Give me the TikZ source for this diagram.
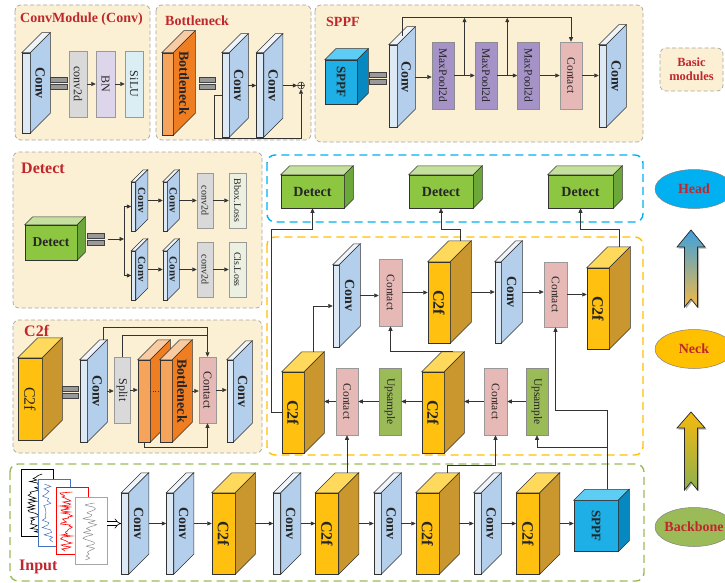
\documentclass[tikz,border=0pt]{standalone}
\usepackage{fontspec}
\setmainfont{Liberation Serif}
\usetikzlibrary{arrows.meta,shadows,calc,shapes.geometric}

\definecolor{panelfill}{HTML}{FCF0D4}
\definecolor{titlered}{HTML}{C0272D}
\definecolor{blufront}{HTML}{DDEAF6}
\definecolor{blutop}{HTML}{EEF4FA}
\definecolor{bluside}{HTML}{B3CFEB}
\definecolor{yelfront}{HTML}{FFC010}
\definecolor{yeltop}{HTML}{FFD95C}
\definecolor{yelside}{HTML}{C9972E}
\definecolor{cyafront}{HTML}{1DAFE5}
\definecolor{cyatop}{HTML}{5ECDF6}
\definecolor{cyaside}{HTML}{0589C0}
\definecolor{grnfront}{HTML}{8DC641}
\definecolor{grntop}{HTML}{C4E09C}
\definecolor{grnside}{HTML}{6CA73A}
\definecolor{orgfront}{HTML}{F6A45C}
\definecolor{orgtop}{HTML}{F9CBA2}
\definecolor{orgside}{HTML}{EF7D22}
\definecolor{catpink}{HTML}{E6B8B6}
\definecolor{poolpurple}{HTML}{A592C7}
\definecolor{upgreen}{HTML}{9BBB59}
\definecolor{convgray}{HTML}{D9D9D9}
\definecolor{bnlilac}{HTML}{DDD5E9}
\definecolor{silucyan}{HTML}{DBEEF4}
\definecolor{losspale}{HTML}{EBF0E0}
\definecolor{headblue}{HTML}{00B0F0}
\definecolor{neckyellow}{HTML}{FFC000}
\definecolor{bbgreen}{HTML}{9BBB59}
\definecolor{sigblue}{HTML}{4472C4}
\definecolor{arrblue}{HTML}{3FA0DD}
\definecolor{arrorange}{HTML}{F2B946}
\definecolor{arryellow}{HTML}{F5B90F}
\definecolor{arrgreen}{HTML}{8DB04E}

\tikzstyle{panel} = [draw=black!35, dash pattern=on 4pt off 2.5pt, line width=.7pt, fill=panelfill, rounded corners=6pt]
\tikzstyle{region} = [dash pattern=on 8pt off 5pt, line width=1.4pt, rounded corners=8pt]
\tikzstyle{title} = [font=\fontsize{14}{14}\selectfont\bfseries, text=titlered, inner sep=0]
\tikzstyle{face} = [draw=black!80, line width=.5pt, inner sep=0, font=\fontsize{14}{14}\selectfont\bfseries, text=black!85]
\tikzstyle{rim} = [draw=black!80, line width=.5pt]
\tikzstyle{sidelab} = [inner sep=0, font=\fontsize{14}{14}\selectfont\bfseries, text=black!85]
\tikzstyle{flat} = [draw=black!40, line width=.5pt, inner sep=0, font=\fontsize{11.5}{12}\selectfont, text=black!85]
\tikzstyle{cat} = [flat, fill=catpink, minimum width=23pt, minimum height=67pt]
\tikzstyle{pool} = [flat, fill=poolpurple, draw=black!45, minimum width=22pt, minimum height=67pt]
\tikzstyle{upsmp} = [flat, fill=upgreen, draw=black!45, minimum width=22pt, minimum height=67pt]
\tikzstyle{greybox} = [flat, fill=convgray]
\tikzstyle{arr} = [draw=black!80, line width=.6pt, -{Triangle[length=4.5pt,width=4pt]}]
\tikzstyle{wire} = [draw=black!80, line width=.6pt]
\tikzstyle{bar} = [fill=black!40, draw=black!75, line width=.4pt]
\tikzstyle{ell} = [ellipse, draw=black!50, line width=.5pt, minimum width=78pt, minimum height=39pt, inner sep=0]
\tikzstyle{elltext} = [font=\fontsize{14}{14}\selectfont\bfseries, text=titlered, inner sep=0]
\tikzstyle{sig} = [fill=white, minimum width=32pt, minimum height=67pt, line width=.6pt, inner sep=0]
\tikzstyle{bigarrow} = [draw=black!85, line width=.7pt, drop shadow={shadow xshift=1.5pt, shadow yshift=-1.5pt, fill=black!60}]
\tikzstyle{addop} = [circle, draw=black!80, line width=.5pt, minimum size=7pt, inner sep=0, path picture={\draw[black!80, line width=.5pt] (path picture bounding box.north) -- (path picture bounding box.south) (path picture bounding box.west) -- (path picture bounding box.east);}]

\newcommand{\vt}[1]{\rotatebox{-90}{#1}}
\newcommand{\cuboid}[8]{%
  \node[face, fill=#7front, minimum width=#4pt, minimum height=#5pt] (#1) at (#2,#3) {#8};
  \filldraw[rim, fill=#7top] (#1.north west) -- ++(#6,-#6) -- ([shift={(#6,-#6)}]#1.north east) -- (#1.north east) -- cycle;
  \filldraw[rim, fill=#7side] (#1.north east) -- ++(#6,-#6) -- ([shift={(#6,-#6)}]#1.south east) -- (#1.south east) -- cycle;
  \coordinate (#1-o) at ([shift={(#6,-#6/2)}]#1.east);
  \coordinate (#1-b) at ([shift={(#6,-#6)}]#1.north);
  \coordinate (#1-t) at ([shift={(#6/2,-#6/2)}]#1.north);
  \coordinate (#1-s) at ([shift={(#6/2,-#6/2)}]#1.east);
}
\newcommand{\plate}[8]{%
  \cuboid{#1}{#2}{#3}{#4}{#5}{#6}{#7}{}
  \node[sidelab] (#1-l) at (#1-s) {#8};
}
\newcommand{\eqbar}[3]{%
  \node[inner sep=0, minimum width=16pt, minimum height=12pt] (#1) at (#2,#3) {};
  \filldraw[bar] (#1.north west) rectangle ([yshift=1pt]#1.east);
  \filldraw[bar] ([yshift=-1pt]#1.west) rectangle (#1.south east);
}

\begin{document}
\begin{tikzpicture}[x=1pt,y=-1pt]
\useasboundingbox (0,0) rectangle (725,583);

\draw[panel] (15,5) rectangle (150,140);
\draw[panel] (156,5) rectangle (311,140);
\draw[panel] (315,5) rectangle (643,142);
\draw[panel] (660,48) rectangle (723,91);
\draw[panel] (13,152) rectangle (262,308);
\draw[panel] (13,320) rectangle (262,453);
\draw[region, draw=headblue] (267,155) rectangle (643,222);
\draw[region, draw=neckyellow] (267,237) rectangle (643,455);
\draw[region, draw=bbgreen] (10,464) rectangle (644,581);

\node[title, anchor=west] (tconv) at (20,19) {ConvModule (Conv)};
\node[title, anchor=west] (tbneck) at (165,21) {Bottleneck};
\node[title, anchor=west] (tsppf) at (326,22) {SPPF};
\node[title, align=center, font=\fontsize{12.5}{14}\selectfont\bfseries] (tbasic) at (691.5,69.5) {Basic\\modules};
\node[title, anchor=west, font=\fontsize{16}{16}\selectfont\bfseries] (tdetect) at (21,168) {Detect};
\node[title, anchor=west, font=\fontsize{16}{16}\selectfont\bfseries] (tc2f) at (24,331) {C2f};
\node[title, anchor=west, font=\fontsize{16}{16}\selectfont\bfseries] (tinput) at (19,567) {Input};

\plate{cmconv}{26}{93}{8}{80}{20}{blu}{\vt{Conv}}
\eqbar{cmbar}{58.5}{83}
\node[greybox, minimum width=18pt, minimum height=66pt, font=\fontsize{12}{12}\selectfont] (cmc2d) at (78,84) {\vt{conv2d}};
\node[flat, fill=bnlilac, minimum width=19pt, minimum height=66pt, font=\fontsize{12}{12}\selectfont] (cmbn) at (105.5,84) {\vt{BN}};
\node[flat, fill=silucyan, minimum width=18pt, minimum height=66pt, font=\fontsize{12}{12}\selectfont] (cmsilu) at (134,84) {\vt{SiLU}};
\draw[arr] (cmc2d.east) -- (cmbn.west);
\draw[arr] (cmbn.east) -- (cmsilu.west);

\plate{bbn}{167.5}{94}{11}{82}{22}{org}{\vt{Bottleneck}}
\eqbar{bbar}{207}{83}
\plate{bbconv1}{225.5}{95}{7}{84}{19}{blu}{\vt{Conv}}
\plate{bbconv2}{260}{95}{7}{84}{19}{blu}{\vt{Conv}}
\node[addop] (bbadd) at (301,85.5) {};
\draw[arr] (bbconv1-o) -- (bbconv1-o -| bbconv2.west);
\draw[arr] (bbconv2-o) -- (bbadd.west);
\draw[arr] (bbconv1.west) -- ++(-7,0) |- ([yshift=-49pt]bbadd.south) -- (bbadd.south);

\cuboid{ssppf}{341}{82}{32}{44}{11}{cya}{\fontsize{13}{13}\selectfont\vt{SPPF}}
\eqbar{sbar}{377.5}{78}
\plate{sconv}{393}{86}{8}{82}{18}{blu}{\vt{Conv}}
\node[pool] (smp1) at (443,75.5) {\vt{MaxPool2d}};
\node[pool] (smp2) at (486,75.5) {\vt{MaxPool2d}};
\node[pool] (smp3) at (528.5,75.5) {\vt{MaxPool2d}};
\node[cat, minimum width=22pt] (scat) at (571,75.5) {\vt{Contact}};
\plate{sconv2}{602.5}{86}{7}{82}{20}{blu}{\vt{Conv}}
\draw[arr] (sconv-o) -- (sconv-o -| smp1.west);
\draw[arr] (smp1.east) -- (smp2.west);
\draw[arr] (smp2.east) -- (smp3.west);
\draw[arr] (smp3.east) -- (scat.west);
\draw[arr] (scat.east) -- (scat.east -| sconv2.west);
\coordinate (sj1) at ($(smp1.east)!.5!(smp2.west)$);
\coordinate (sj2) at ($(smp2.east)!.5!(smp3.west)$);
\draw[arr] (sconv-t) -- ++(0,-18) coordinate (sloop) -| (scat.north);
\draw[arr] (sj1) -- (sj1 |- sloop);
\draw[arr] (sj2) -- (sj2 |- sloop);

\cuboid{dcube}{51}{242.5}{52}{35}{8}{grn}{\fontsize{13.5}{14}\selectfont Detect}
\eqbar{dbar}{95.5}{239}
\coordinate (dsplit) at (124,239);
\plate{dconva}{133.5}{206.5}{4}{49}{12}{blu}{\fontsize{11}{11}\selectfont\vt{Conv}}
\plate{dconvb}{165}{206.5}{4}{49}{12}{blu}{\fontsize{11}{11}\selectfont\vt{Conv}}
\node[greybox, minimum width=16pt, minimum height=55pt, font=\fontsize{10}{10}\selectfont] (dc2d1) at (205,200.5) {\vt{conv2d}};
\node[flat, fill=losspale, minimum width=17pt, minimum height=55pt, font=\fontsize{10}{10}\selectfont] (dbbox) at (237.5,200.5) {\vt{Bbox.Loss}};
\plate{dconvc}{133.5}{275.5}{4}{49}{12}{blu}{\fontsize{11}{11}\selectfont\vt{Conv}}
\plate{dconvd}{165}{275.5}{4}{49}{12}{blu}{\fontsize{11}{11}\selectfont\vt{Conv}}
\node[greybox, minimum width=16pt, minimum height=55pt, font=\fontsize{10}{10}\selectfont] (dc2d2) at (205,269.5) {\vt{conv2d}};
\node[flat, fill=losspale, minimum width=17pt, minimum height=55pt, font=\fontsize{10}{10}\selectfont] (dcls) at (237.5,269.5) {\vt{Cls.Loss}};
\draw[arr] ([xshift=4pt]dbar.east) -- (dsplit);
\draw[arr] (dsplit) |- (dconva.west);
\draw[arr] (dsplit) |- (dconvc.west);
\draw[arr] (dconva-o) -- (dconva-o -| dconvb.west);
\draw[arr] (dconvb-o) -- (dconvb-o -| dc2d1.west);
\draw[arr] (dc2d1.east) -- (dbbox.west);
\draw[arr] (dconvc-o) -- (dconvc-o -| dconvd.west);
\draw[arr] (dconvd-o) -- (dconvd-o -| dc2d2.west);
\draw[arr] (dc2d2.east) -- (dcls.west);

\cuboid{pc2f}{30}{399}{24}{82}{20}{yel}{\fontsize{16}{16}\selectfont\mdseries\vt{C2f}}
\eqbar{pbar}{70}{392}
\plate{pconv}{83.5}{401}{7}{82}{20}{blu}{\vt{Conv}}
\node[greybox, minimum width=16pt, minimum height=66pt, font=\fontsize{12}{12}\selectfont] (psplit) at (122,390) {\vt{Split}};
\cuboid{pbn1}{144}{401}{12}{82}{20}{org}{}
\plate{pbn2}{166}{401}{12}{82}{20}{org}{\vt{Bottleneck}}
\node[cat, minimum width=17pt, minimum height=66pt, font=\fontsize{12}{12}\selectfont] (pcat) at (207.5,390) {\vt{Contact}};
\plate{pconv2}{230}{401}{6}{82}{19}{blu}{\vt{Conv}}
\draw[arr] (pconv-o) -- (pconv-o -| psplit.west);
\draw[arr] (psplit.east) -- (psplit.east -| pbn1.west);
\draw[wire, dotted, line width=1pt] ([yshift=10pt]pbn1.east) -- ([yshift=10pt]pbn1.east -| pbn2.west);
\draw[arr] (pbn2-o) -- (pbn2-o -| pcat.west);
\draw[arr] (pcat.east) -- (pcat.east -| pconv2.west);
\draw[arr] (pconv-b) -- ++(0,-12) -| (pcat.north);
\draw[wire] (psplit.north) |- ([yshift=21pt]pcat.north);
\draw[arr] (pbn1.south) -- ++(0,5) -| (pcat.south);

\cuboid{det1}{312.5}{191.5}{63}{33}{9}{grn}{Detect}
\cuboid{det2}{441}{191.5}{64}{33}{9}{grn}{Detect}
\cuboid{det3}{580.5}{191.5}{65}{33}{9}{grn}{Detect}

\plate{nconv1}{336}{306}{6}{82}{21}{blu}{\vt{Conv}}
\node[cat] (ncat1) at (390.5,292.5) {\vt{Contact}};
\cuboid{nc2f1}{439}{302.5}{22}{81}{21}{yel}{\fontsize{16}{16}\selectfont\vt{C2f}}
\plate{nconv2}{498}{302.5}{6}{81}{21}{blu}{\vt{Conv}}
\node[cat, minimum height=65pt] (ncat2) at (555.5,294.5) {\vt{Contact}};
\cuboid{nc2f2}{598}{308.5}{22}{81}{21}{yel}{\fontsize{16}{16}\selectfont\vt{C2f}}
\cuboid{nc2fa}{293}{412.5}{22}{81}{20}{yel}{\fontsize{16}{16}\selectfont\vt{C2f}}
\node[cat, minimum width=22pt] (ncat3) at (347,401.5) {\vt{Contact}};
\node[upsmp] (nup1) at (390,401.5) {\vt{Upsample}};
\cuboid{nc2fb}{433}{412.5}{22}{81}{20}{yel}{\fontsize{16}{16}\selectfont\vt{C2f}}
\node[cat] (ncat4) at (495.5,401.5) {\vt{Contact}};
\node[upsmp] (nup2) at (537,401.5) {\vt{Upsample}};

\draw[arr] (nconv1-o) -- (nconv1-o -| ncat1.west);
\draw[arr] (ncat1.east) -- (ncat1.east -| nc2f1.west);
\draw[arr] (nc2f1-o) -- (nc2f1-o -| nconv2.west);
\draw[arr] (nconv2-o) -- (nconv2-o -| ncat2.west);
\draw[arr] (ncat2.east) -- (ncat2.east -| nc2f2.west);
\draw[arr] (nup2.west) -- (nup2.west -| ncat4.east);
\draw[arr] (ncat4.west) -- (ncat4.west -| nc2fb-o);
\draw[arr] (nup1.east -| nc2fb.west) -- (nup1.east);
\draw[arr] (nup1.west) -- (nup1.west -| ncat3.east);
\draw[arr] (ncat3.west) -- (ncat3.west -| nc2fa-o);
\draw[arr] (nc2fa-b) |- (nconv1.west);
\draw[arr] (nc2fb-b) -| (ncat1.south);
\draw[arr] (nc2fa.west) -- ++(-10,0) |- ([yshift=-21pt]det1.south) -- (det1.south);
\draw[arr] (nc2f1-b) |- ([yshift=-21pt]det2.south) -- (det2.south);
\draw[arr] (nc2f2-b) |- ([yshift=-21pt]det3.south) -- (det3.south);

\pgfmathsetseed{11}
\node[sig, draw=black] (sig1) at (37,503) {};
\draw[black, line width=.6pt] plot[domain=474:533, samples=40, variable=\t] ({27+16*rnd},{\t});
\node[sig, draw=sigblue] (sig2) at (54,512.5) {};
\draw[sigblue, line width=.5pt] plot[domain=484:542, samples=25, variable=\t] ({42+11*rnd},{\t});
\node[sig, draw=red] (sig3) at (72.5,521) {};
\draw[red, line width=.6pt] plot[domain=492:551, samples=60, variable=\t] ({60+13*rnd},{\t});
\node[sig, draw=black!35] (sig4) at (91,531) {};
\draw[black!45, line width=.5pt] plot[smooth, domain=503:560, samples=30, variable=\t] ({83+15*rnd},{\t});

\plate{bconv1}{125}{533.5}{7}{81}{20}{blu}{\vt{Conv}}
\plate{bconv2}{170}{533.5}{7}{81}{20}{blu}{\vt{Conv}}
\cuboid{bc2f1}{223.5}{533.5}{23}{81}{20}{yel}{\fontsize{16}{16}\selectfont\vt{C2f}}
\plate{bconv3}{277}{533.5}{7}{81}{20}{blu}{\vt{Conv}}
\cuboid{bc2f2}{327}{533.5}{23}{81}{20}{yel}{\fontsize{16}{16}\selectfont\vt{C2f}}
\plate{bconv4}{377.5}{533.5}{7}{81}{20}{blu}{\vt{Conv}}
\cuboid{bc2f3}{427.5}{533.5}{23}{81}{20}{yel}{\fontsize{16}{16}\selectfont\vt{C2f}}
\plate{bconv5}{477.5}{533.5}{7}{81}{20}{blu}{\vt{Conv}}
\cuboid{bc2f4}{528}{533.5}{23}{81}{20}{yel}{\fontsize{16}{16}\selectfont\vt{C2f}}
\cuboid{bsppf}{596}{526}{44}{51}{11}{cya}{\fontsize{13}{13}\selectfont\vt{SPPF}}

\draw[double=white, double distance=3pt, line width=.6pt, -{Implies}] (sig4.east |- bconv1-o) -- (bconv1.west |- bconv1-o);
\draw[arr] (bconv1-o) -- (bconv1-o -| bconv2.west);
\draw[arr] (bconv2-o) -- (bconv2-o -| bc2f1.west);
\draw[arr] (bc2f1-o) -- (bc2f1-o -| bconv3.west);
\draw[arr] (bconv3-o) -- (bconv3-o -| bc2f2.west);
\draw[arr] (bc2f2-o) -- (bc2f2-o -| bconv4.west);
\draw[arr] (bconv4-o) -- (bconv4-o -| bc2f3.west);
\draw[arr] (bc2f3-o) -- (bc2f3-o -| bconv5.west);
\draw[arr] (bconv5-o) -- (bconv5-o -| bc2f4.west);
\draw[arr] (bc2f4-o) -- (bc2f4-o -| bsppf.west);

\draw[arr] (bc2f2-b) -- (ncat3.south);
\draw[arr] (bc2f3-b) -- ++(0,-7) -| (ncat4.south);
\draw[arr] (bsppf-b) |- ([yshift=-83pt]ncat2.south) -- (ncat2.south);
\draw[arr] (bsppf-b) |- ([yshift=-12pt]nup2.south) -- (nup2.south);

\node[ell, fill=headblue] (head) at (694,189) {};
\node[elltext] (headt) at (head) {Head};
\node[ell, fill=neckyellow] (neck) at (694,349) {};
\node[elltext] (neckt) at (neck) {Neck};
\node[ell, fill=bbgreen] (bbone) at (694,527) {};
\node[elltext] (bbonet) at (bbone) {Backbone};

\shade[bigarrow, top color=arrblue, bottom color=arrorange] (691,230) -- (705,247) -- (697.5,247) -- (697.5,307) -- (691,299) -- (684.5,307) -- (684.5,247) -- (677,247) -- cycle;
\shade[bigarrow, top color=arryellow, bottom color=arrgreen] (691,412) -- (705,428) -- (697.5,428) -- (697.5,490) -- (691,482) -- (684.5,490) -- (684.5,428) -- (677,428) -- cycle;
\end{tikzpicture}
\end{document}
